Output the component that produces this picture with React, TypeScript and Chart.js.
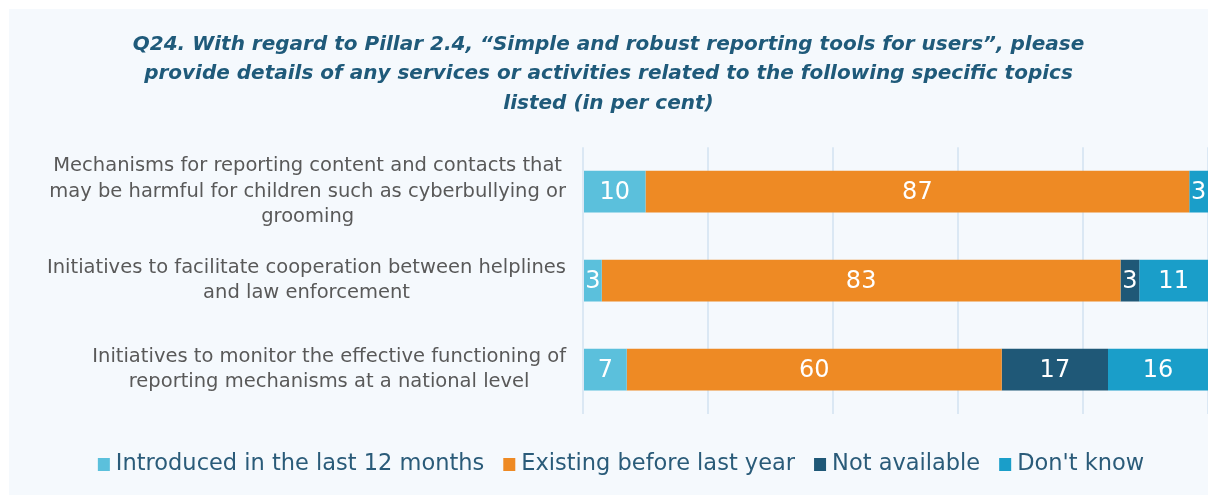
import React, { useEffect, useRef } from "react";
import { Chart, registerables } from "chart.js";

Chart.register(...registerables);

const categories: string[][] = [
  ["Mechanisms for reporting content and contacts that", "may be harmful for children such as cyberbullying or", "grooming"],
  ["Initiatives to facilitate cooperation between helplines", "and law enforcement"],
  ["Initiatives to monitor the effective functioning of", "reporting mechanisms at a national level"],
];

const seriesNames = [
  "Introduced in the last 12 months",
  "Existing before last year",
  "Not available",
  "Don't know",
];

const introduced = [10, 3, 7];
const existing = [87, 83, 60];
const notAvailable = [0, 3, 17];
const dontKnow = [3, 11, 16];

const colors = ["#5bc0dc", "#ee8a24", "#1f5877", "#1a9ec9"];

const titleLines = [
  "Q24. With regard to Pillar 2.4, \u201cSimple and robust reporting tools for users\u201d, please",
  "provide details of any services or activities related to the following specific topics",
  "listed (in per cent)",
];

const BASE_FONT = "'DejaVu Sans', sans-serif";

const labelsPlugin = {
  id: "customLabels",
  afterDatasetsDraw(chart: any) {
    const ctx = chart.ctx;
    ctx.save();
    ctx.fillStyle = "#ffffff";
    ctx.font = "24px " + BASE_FONT;
    ctx.textAlign = "center";
    ctx.textBaseline = "middle";
    chart.data.datasets.forEach((ds: any, di: number) => {
      const meta = chart.getDatasetMeta(di);
      meta.data.forEach((el: any, i: number) => {
        const v = ds.data[i];
        if (!v) return;
        const p = el.getProps(["x", "y", "base"], true);
        ctx.fillText(String(v), (p.x + p.base) / 2, p.y + 1);
      });
    });
    ctx.restore();
  },
  afterDraw(chart: any) {
    const ctx = chart.ctx;
    const yScale = chart.scales.y;
    const area = chart.chartArea;
    ctx.save();
    ctx.fillStyle = "#595959";
    ctx.font = "19.5px " + BASE_FONT;
    ctx.textAlign = "center";
    ctx.textBaseline = "middle";
    const lh = 25.5;
    categories.forEach((lines, i) => {
      const y = yScale.getPixelForValue(i);
      const maxW = Math.max(...lines.map((l) => ctx.measureText(l).width));
      const right = area.left - 17;
      const cx = right - maxW / 2;
      const y0 = y - ((lines.length - 1) * lh) / 2;
      lines.forEach((l, k) => ctx.fillText(l, cx, y0 + k * lh));
    });
    ctx.restore();
    ctx.save();
    ctx.font = "22.5px " + BASE_FONT;
    ctx.textBaseline = "middle";
    ctx.textAlign = "left";
    const box = 12;
    const gap = 6;
    const itemGap = 19;
    const widths = chart.data.datasets.map((ds: any) => box + gap + ctx.measureText(ds.label).width);
    const total = widths.reduce((a: number, b: number) => a + b, 0) + itemGap * (widths.length - 1);
    let x = 612 - total / 2;
    const ly = 455;
    chart.data.datasets.forEach((ds: any, i: number) => {
      ctx.fillStyle = ds.backgroundColor;
      ctx.fillRect(x, ly - 6, box, 13);
      ctx.fillStyle = "#2a5b79";
      ctx.fillText(ds.label, x + box + gap, ly);
      x += widths[i] + itemGap;
    });
    ctx.restore();
  },
};

export default function App() {
  const ref = useRef<HTMLCanvasElement | null>(null);
  useEffect(() => {
    if (!ref.current) return;
    const values = [introduced, existing, notAvailable, dontKnow];
    const chart = new Chart(ref.current, {
      type: "bar",
      data: {
        labels: categories.map((c) => c.join(" ")),
        datasets: seriesNames.map((name, i) => ({
          label: name,
          data: values[i],
          backgroundColor: colors[i],
          borderWidth: 0,
          categoryPercentage: 1,
          barPercentage: 0.47,
        })),
      },
      options: {
        indexAxis: "y",
        animation: false,
        responsive: false,
        maintainAspectRatio: false,
        layout: { padding: { top: 0, right: 8, bottom: 82, left: 0 } },
        plugins: {
          legend: { display: false },
          tooltip: { enabled: false },
          title: {
            display: true,
            text: titleLines,
            color: "#1f5a7a",
            font: { family: "'DejaVu Sans', sans-serif", size: 20, weight: "bold", style: "italic", lineHeight: 1.47 },
            padding: { top: 21, bottom: 29 },
          },
        },
        scales: {
          x: {
            stacked: true,
            min: 0,
            max: 100,
            ticks: { display: false, stepSize: 20 },
            grid: { color: "#dbe8f4", lineWidth: 2, drawTicks: false },
            border: { display: false },
            afterFit: (s: any) => { s.height = 0; },
          },
          y: {
            stacked: true,
            ticks: { display: false },
            grid: { display: false, drawTicks: false },
            border: { display: false },
            afterFit: (s: any) => { s.width = 574; },
          },
        },
      },
      plugins: [labelsPlugin],
    });
    return () => chart.destroy();
  }, []);
  return (
    <div style={{ position: "relative", left: 1, top: 1, width: 1207, height: 487, background: "#f5f9fd" }}>
      <canvas ref={ref} width={1207} height={487} style={{ display: "block" }} />
    </div>
  );
}
